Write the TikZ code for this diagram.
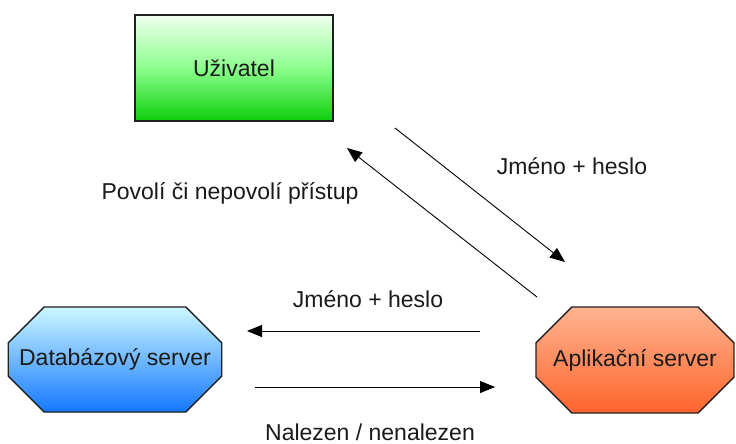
\documentclass[tikz,border=0pt]{standalone}
\usepackage{fontspec}
\setmainfont{Liberation Sans}
\usetikzlibrary{arrows.meta,shapes.misc}

\definecolor{txt}{HTML}{1A1A1A}
\definecolor{edge}{HTML}{202020}

\tikzset{
  every node/.style={font=\fontsize{23}{26}\selectfont, text=txt},
  box/.style={draw=edge, line width=1.4pt, inner sep=0pt},
  octa/.style={box, chamfered rectangle,
    chamfered rectangle xsep=33pt, chamfered rectangle ysep=25pt},
  msg/.style={draw=black, line width=0.9pt,
    -{Triangle[length=15pt,width=12pt]}},
}

\begin{document}
\begin{tikzpicture}[x=1pt,y=-1pt]
  \useasboundingbox (0,0) rectangle (736,444);

  % the three parties
  \node[box, minimum width=198pt, minimum height=106pt,
        top color=green!6, bottom color=green!80!black!95!white,
        middle color=green!45!white] (user) at (234,68) {Uživatel};
  \node[octa, minimum width=210pt, minimum height=105pt,
        top color=blue!15!cyan!20!white, bottom color={rgb,255:red,20;green,120;blue,255}]
        (db) at (115,359.5) {Databázový server};
  \node[octa, minimum width=198pt, minimum height=106pt,
        top color={rgb,255:red,255;green,180;blue,145},
        bottom color={rgb,255:red,255;green,100;blue,45}]
        (app) at (635,360) {Aplikační server};

  % loose ends of the message arrows
  \coordinate (u1) at (395,128);
  \coordinate (a1) at (565,262);
  \coordinate (a2) at (537,297);
  \coordinate (u2) at (347,148);
  \coordinate (a3) at (480,331);
  \coordinate (d3) at (247,331);
  \coordinate (d4) at (255,387);
  \coordinate (a4) at (495,387);

  \draw[msg] (u1) -- (a1);
  \draw[msg] (a2) -- (u2);
  \draw[msg] (a3) -- (d3);
  \draw[msg] (d4) -- (a4);

  % message labels
  \node (l1) at (572,166) {Jméno + heslo};
  \node (l2) at (230,193) {Povolí či nepovolí přístup};
  \node (l3) at (368,299) {Jméno + heslo};
  \node[anchor=base, inner sep=0pt, text depth=0pt] (l4) at (370,440)
        {Nalezen / nenalezen};
\end{tikzpicture}
\end{document}
